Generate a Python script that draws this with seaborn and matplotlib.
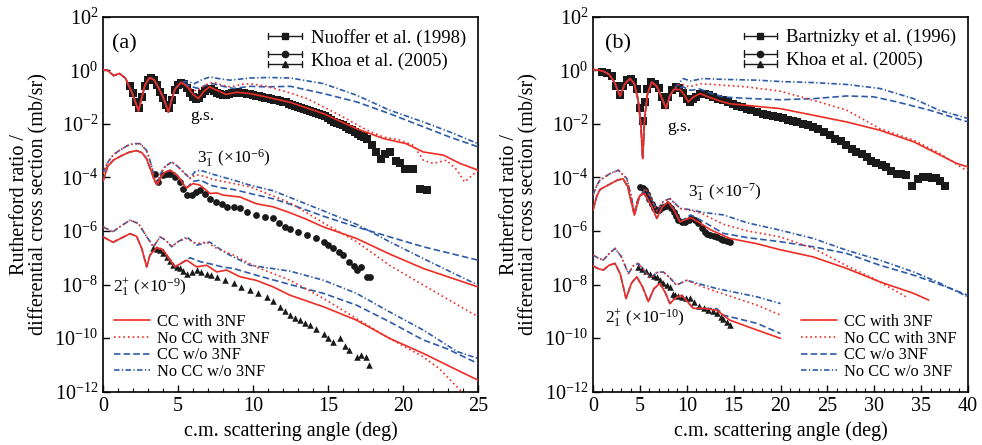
import matplotlib
matplotlib.use("Agg")
import matplotlib.pyplot as plt
import numpy as np
import seaborn as sns
from matplotlib.lines import Line2D
from matplotlib.legend_handler import HandlerBase
from matplotlib.ticker import MultipleLocator, NullLocator, FixedLocator, LogFormatterMathtext

# all curves are (c.m. angle in deg, log10 of value) pairs

# ---------------- panel (a) ----------------
a_gs_early = [(0, 0.02), (0.3, 0.0), (0.7, -0.2), (1.1, -0.12), (1.5, -0.3), (1.9, -0.8), (2.2, -1.25),
              (2.36, -1.52), (2.55, -1.1), (2.8, -0.55), (3.1, -0.28), (3.4, -0.35), (3.7, -0.65),
              (4.0, -1.0), (4.2, -1.3), (4.36, -1.57), (4.55, -1.15), (4.8, -0.7), (5.2, -0.45)]
a_gs_cc_3nf = a_gs_early + [(5.6, -0.6), (6.0, -0.9), (6.36, -1.06), (6.7, -0.8), (7.1, -0.62), (7.6, -0.75),
                            (8.2, -0.9), (8.9, -0.82), (9.8, -0.87), (10.9, -1.0), (12.5, -1.2), (14.7, -1.62),
                            (16.9, -2.18), (18.7, -2.55), (20.2, -2.74), (21.35, -3.05), (22.7, -3.17),
                            (23.8, -3.48), (25, -3.73)]
a_gs_nocc_3nf = a_gs_early + [(5.7, -0.65), (6.24, -0.78), (6.8, -0.55), (7.36, -0.44), (7.9, -0.55),
                              (8.5, -0.62), (9.2, -0.53), (9.8, -0.5), (10.9, -0.6), (12.5, -0.85),
                              (13.6, -1.06), (15.8, -1.68), (17.6, -2.24), (18.7, -2.49), (19.8, -2.61),
                              (20.7, -2.8), (21.35, -3.36), (22.0, -3.48), (22.9, -3.36), (23.6, -3.73),
                              (24.1, -4.17), (25, -3.73)]
a_gs_cc_no3nf = a_gs_early + [(5.8, -0.6), (6.36, -0.68), (6.9, -0.55), (7.36, -0.5), (8.0, -0.6),
                              (8.7, -0.68), (9.8, -0.6), (10.9, -0.62), (12.5, -0.6), (14.7, -0.87),
                              (16.9, -1.18), (19.1, -1.62), (21.35, -2.11), (23.1, -2.49), (25, -2.86)]
a_gs_nocc_no3nf = a_gs_early + [(5.6, -0.42), (6.1, -0.5), (6.6, -0.35), (7.13, -0.25), (7.8, -0.32),
                                (8.47, -0.37), (9.8, -0.29), (11.0, -0.27), (12.5, -0.29), (14.7, -0.5),
                                (16.9, -0.93), (19.1, -1.49), (21.35, -1.93), (23.1, -2.3), (25, -2.74)]

a_3m_low = [(0, -4.15), (0.3, -3.6), (0.7, -3.35), (1.1, -3.23), (1.5, -3.12), (1.8, -3.05), (2.24, -3.0),
            (2.6, -3.08), (2.9, -3.3), (3.2, -3.75), (3.45, -4.15), (3.63, -4.27), (3.85, -4.0),
            (4.1, -3.82), (4.47, -3.73), (4.8, -3.85), (5.13, -4.04), (5.4, -4.3), (5.58, -4.39)]
a_3m_high = [(0, -3.85), (0.3, -3.45), (0.7, -3.15), (1.1, -2.99), (1.6, -2.82), (2.02, -2.74), (2.47, -2.74),
             (2.9, -2.99), (3.2, -3.5), (3.45, -4.05), (3.63, -4.2), (3.85, -3.85), (4.13, -3.6),
             (4.58, -3.42), (5.0, -3.6), (5.36, -3.8), (5.8, -4.04)]
a_3m_cc_3nf = a_3m_low + [(6.0, -4.23), (6.47, -4.29), (7.13, -4.6), (7.6, -4.58), (8.0, -4.66), (8.6, -4.7),
                          (9.13, -4.73), (10.2, -4.98), (11.35, -5.1), (12.47, -5.32), (13.5, -5.55),
                          (14.7, -5.85), (16.9, -6.28), (19.1, -6.86), (21.35, -7.4), (25, -8.09)]
a_3m_cc_no3nf = a_3m_low + [(6.0, -4.15), (6.5, -4.1), (7.2, -4.3), (8.0, -4.4), (8.7, -4.45), (9.8, -4.6),
                            (11.35, -4.8), (12.47, -5.0), (14.7, -5.45), (16.9, -5.85), (19.1, -6.22),
                            (21.35, -6.59), (25, -7.09)]
a_3m_nocc_3nf = a_3m_high + [(6.2, -3.9), (6.69, -3.95), (7.36, -4.08), (8.0, -4.15), (8.7, -4.23),
                             (9.8, -4.35), (11.35, -4.7), (12.47, -4.95), (14.7, -5.7), (16.9, -6.4),
                             (19.1, -7.28), (21.35, -8.02), (25, -9.2)]
a_3m_nocc_no3nf = a_3m_high + [(6.1, -3.8), (6.47, -3.73), (7.36, -3.89), (8.7, -4.1), (9.8, -4.29),
                               (11.35, -4.5), (12.47, -4.75), (14.7, -5.25), (16.9, -5.75), (19.1, -6.4),
                               (21.35, -7.03), (25, -8.02)]

a_2p_low = [(0, -6.22), (0.67, -6.42), (1.1, -6.3), (1.8, -6.1), (2.24, -6.2), (2.58, -6.65), (2.91, -7.34),
            (3.13, -6.9), (3.58, -6.62), (4.0, -6.7), (4.47, -7.09), (4.8, -7.34)]
a_2p_high = [(0, -5.85), (0.67, -6.03), (1.1, -5.85), (1.8, -5.6), (2.36, -5.72), (2.9, -6.2), (3.36, -6.59),
             (3.8, -6.22), (4.2, -6.35), (4.58, -6.59), (5.0, -6.4)]
a_2p_cc_3nf = a_2p_low + [(5.58, -7.09), (6.24, -7.34), (6.91, -7.28), (7.58, -7.53), (8.24, -7.46),
                          (9.13, -7.71), (10.2, -7.84), (11.35, -8.09), (12.47, -8.4), (14.7, -8.83),
                          (16.9, -9.33), (19.1, -10.01), (21.35, -10.57), (23.6, -11.19), (25, -11.57)]
a_2p_cc_no3nf = a_2p_low + [(5.8, -7.0), (6.5, -7.15), (7.1, -7.22), (8.0, -7.35), (8.7, -7.4), (10.2, -7.65),
                            (12.47, -8.0), (14.7, -8.33), (16.9, -8.77), (19.1, -9.39), (21.35, -10.07),
                            (22.9, -10.39), (25, -10.95)]
a_2p_nocc_3nf = a_2p_high + [(5.58, -6.28), (6.24, -6.47), (6.9, -6.41), (7.58, -6.65), (8.7, -6.9),
                             (10.2, -7.34), (12.47, -7.84), (14.7, -8.52), (16.9, -9.27), (19.1, -10.01),
                             (21.35, -10.7), (22.4, -11.13), (23.8, -11.94), (24.3, -12.2)]
a_2p_nocc_no3nf = a_2p_high + [(5.58, -6.22), (6.24, -6.53), (7.1, -6.41), (8.24, -6.84), (9.8, -7.28),
                               (12.47, -7.5), (14.7, -7.84), (16.9, -8.33), (19.1, -9.02), (21.35, -9.7),
                               (23.6, -10.5), (25, -10.76)]

# experimental points, panel (a)
a_gs_data = [(1.8, -0.58), (2.0, -0.85), (2.2, -1.2), (2.4, -1.4), (2.6, -1.0), (2.8, -0.6), (3.0, -0.35),
             (3.2, -0.3), (3.4, -0.37), (3.6, -0.55), (3.8, -0.8), (4.0, -1.05), (4.2, -1.3), (4.4, -1.4),
             (4.6, -1.1), (4.8, -0.75), (5.0, -0.55), (5.2, -0.47), (5.4, -0.5), (5.6, -0.65), (5.8, -0.85),
             (6.0, -1.0), (6.2, -1.08), (6.4, -1.02), (6.6, -0.88), (6.8, -0.76), (7.0, -0.7), (7.2, -0.7),
             (7.4, -0.76), (7.6, -0.84), (7.8, -0.9), (8.0, -0.93), (8.2, -0.92), (8.4, -0.88), (8.6, -0.85),
             (8.8, -0.84), (9.0, -0.83), (9.2, -0.84), (9.4, -0.86), (9.6, -0.88), (9.8, -0.9), (10.0, -0.93),
             (10.2, -0.95), (10.4, -0.97), (10.6, -1.0), (10.8, -1.03), (11.0, -1.05), (11.2, -1.08),
             (11.4, -1.1), (11.6, -1.12), (11.8, -1.14), (12.0, -1.17), (12.2, -1.2), (12.4, -1.25),
             (12.6, -1.3), (12.8, -1.34), (13.0, -1.38), (13.2, -1.42), (13.4, -1.46), (13.6, -1.5),
             (13.8, -1.53), (14.0, -1.57), (14.2, -1.6), (14.4, -1.63), (14.6, -1.67), (14.8, -1.72),
             (15.0, -1.8), (15.2, -1.85), (15.4, -1.92), (15.6, -1.96), (15.8, -2.0), (16.0, -2.05),
             (16.2, -2.1), (16.4, -2.18), (16.6, -2.24), (16.8, -2.3), (17.0, -2.38), (17.2, -2.45),
             (17.4, -2.5), (17.6, -2.55), (17.9, -2.8), (18.2, -3.05), (18.5, -3.3), (18.8, -3.11),
             (19.1, -3.05), (19.5, -3.4), (19.8, -3.48), (20.1, -3.69), (20.65, -3.69), (21.1, -4.44),
             (21.6, -4.48)]
a_3m_data = [(3.47, -3.86), (3.69, -4.17), (4.02, -3.92), (4.25, -3.88), (4.47, -3.86), (4.8, -4.0),
             (5.13, -4.17), (5.35, -4.45), (5.58, -4.66), (5.9, -4.66), (6.2, -4.55), (6.47, -4.48),
             (6.8, -4.62), (7.13, -4.79), (7.5, -4.9), (7.9, -5.0), (8.24, -5.1), (8.7, -5.12), (9.13, -5.16),
             (9.6, -5.28), (10.2, -5.41), (10.8, -5.47), (11.35, -5.53), (11.7, -5.7), (12.1, -5.85),
             (12.47, -5.91), (13.0, -6.03), (13.6, -6.16), (14.2, -6.28), (14.7, -6.4), (15.0, -6.52),
             (15.35, -6.65), (15.7, -6.78), (16.0, -6.9), (16.4, -7.15), (16.7, -7.3), (16.95, -7.46),
             (17.2, -7.34), (17.6, -7.71), (17.8, -7.71)]
a_2p_data = [(3.36, -6.65), (3.6, -6.68), (3.8, -6.72), (4.0, -6.82), (4.24, -6.97), (4.45, -7.12),
             (4.69, -7.28), (4.9, -7.35), (5.13, -7.4), (5.35, -7.5), (5.6, -7.59), (5.9, -7.52),
             (6.24, -7.46), (6.55, -7.53), (6.9, -7.59), (7.2, -7.65), (7.58, -7.71), (8.1, -7.82),
             (8.7, -7.96), (9.2, -8.08), (9.8, -8.21), (10.3, -8.32), (10.9, -8.46), (11.3, -8.62),
             (11.8, -8.83), (12.1, -8.98), (12.47, -9.14), (12.8, -9.24), (13.1, -9.33), (13.45, -9.42),
             (13.8, -9.51), (14.2, -9.66), (14.7, -9.83), (15.0, -9.98), (15.35, -10.14), (15.8, -10.01),
             (16.1, -10.3), (16.4, -10.45), (16.9, -10.7), (17.2, -10.64), (17.5, -10.7), (17.75, -11.0)]

# ---------------- panel (b) ----------------
b_gs_early = [(0, 0.03), (0.6, 0.0), (1.1, -0.04), (1.7, -0.15), (2.3, -0.45), (2.88, -0.97), (3.4, -0.5),
              (3.95, -0.31), (4.4, -0.5), (4.8, -1.1), (5.1, -2.0), (5.3, -3.3), (5.5, -1.8), (5.8, -0.9),
              (6.26, -0.44), (6.8, -0.6), (7.3, -1.0), (7.79, -1.43), (8.2, -0.95), (8.6, -0.72)]
b_gs_cc_3nf = b_gs_early + [(9.28, -0.72), (9.7, -0.9), (10.17, -1.18), (10.7, -1.0), (11.41, -0.87),
                            (12.5, -1.02), (13.55, -1.15), (14.6, -1.25), (16.4, -1.31), (18.1, -1.37),
                            (19.95, -1.43), (23.5, -1.68), (27.06, -1.93), (30.6, -2.24), (34.2, -2.67),
                            (36.7, -3.11), (38.8, -3.48), (40, -3.61)]
b_gs_nocc_3nf = b_gs_early + [(9.28, -0.5), (10.3, -0.62), (11.4, -0.5), (13.9, -0.56), (16.4, -0.62),
                              (19.95, -0.78), (23.5, -1.12), (27.06, -1.49), (30.6, -2.18), (34.2, -2.61),
                              (37.0, -3.11), (39.5, -3.67), (40, -3.73)]
b_gs_cc_no3nf = b_gs_early + [(9.6, -0.62), (10.4, -0.75), (11.4, -0.7), (12.5, -0.85), (13.9, -1.0),
                              (16.4, -1.05), (19.95, -1.1), (23.5, -1.06), (27.06, -0.96), (29.9, -0.99),
                              (32.4, -1.18), (35.9, -1.49), (40, -1.93)]
b_gs_nocc_no3nf = b_gs_early + [(9.6, -0.31), (10.4, -0.4), (11.7, -0.31), (13.9, -0.34), (17.5, -0.37),
                                (19.95, -0.42), (23.5, -0.46), (27.06, -0.53), (30.6, -0.68), (34.2, -1.06),
                                (36.9, -1.49), (40, -1.8)]

b_3m_low = [(0, -5.22), (0.4, -4.7), (0.75, -4.45), (1.8, -4.25), (2.6, -4.1), (3.2, -4.05), (3.7, -4.35),
            (4.41, -5.41), (4.98, -4.68), (5.5, -4.6), (6.2, -5.04), (6.8, -5.53), (7.4, -5.1), (8.0, -4.91),
            (8.6, -5.2), (9.28, -5.66)]
b_3m_high = [(0, -4.66), (0.4, -4.3), (0.75, -4.1), (1.8, -3.86), (2.7, -3.73), (3.6, -4.04), (4.0, -4.6),
             (4.41, -5.29), (4.8, -4.8), (5.6, -4.41), (6.2, -4.8), (6.8, -5.25), (7.5, -4.9), (8.2, -4.79),
             (9.3, -5.16)]
b_3m_cc_3nf = b_3m_low + [(10.4, -5.5), (11.5, -5.72), (12.5, -5.95), (14.6, -6.28), (17.4, -6.47),
                          (19.95, -6.7), (23.5, -6.97), (27.06, -7.4), (30.6, -7.9), (34.2, -8.33), (35.8, -8.58)]
b_3m_cc_no3nf = b_3m_low + [(10.4, -5.4), (11.5, -5.6), (12.5, -5.8), (13.9, -6.09), (16.5, -6.25),
                            (19.95, -6.4), (23.5, -6.59), (27.06, -6.84), (30.6, -7.28), (34.2, -7.65),
                            (36.7, -7.96), (40, -8.4)]
b_3m_nocc_3nf = b_3m_high + [(10.3, -5.22), (11.6, -5.35), (13.9, -5.75), (16.5, -6.0), (19.95, -6.22),
                             (23.5, -6.65), (27.06, -7.3), (29.9, -7.77), (33.6, -8.5)]
b_3m_nocc_no3nf = b_3m_high + [(10.3, -5.2), (11.6, -5.3), (13.9, -5.4), (16.5, -5.7), (19.95, -5.97),
                               (23.5, -6.28), (27.06, -6.72), (30.6, -7.09), (34.2, -7.53), (36.7, -7.9),
                               (40, -8.46)]

b_2p_low = [(0, -7.3), (0.5, -7.4), (1.1, -7.46), (1.7, -7.28), (2.35, -7.21), (2.9, -7.6), (3.52, -8.52),
            (4.1, -7.95), (4.66, -7.71), (5.3, -8.1), (5.9, -8.64), (6.5, -8.15), (7.15, -7.96), (7.7, -8.3),
            (8.2, -8.71), (8.8, -8.5), (9.46, -8.4), (10.1, -8.65), (10.7, -8.89), (11.8, -8.89)]
b_2p_high = [(0, -6.9), (0.5, -7.0), (1.1, -7.09), (1.7, -6.85), (2.35, -6.65), (3.0, -6.95), (3.77, -7.59),
             (4.3, -7.3), (4.84, -7.21), (5.5, -7.5), (6.1, -7.77), (6.8, -7.55), (7.5, -7.53), (8.2, -7.75),
             (8.9, -8.02), (10.0, -7.84)]
b_2p_cc_3nf = b_2p_low + [(13.2, -8.96), (14.6, -9.33), (17.5, -9.7), (20, -10.01)]
b_2p_cc_no3nf = b_2p_low + [(13.2, -8.9), (13.9, -9.14), (17.5, -9.45), (20, -9.83)]
b_2p_nocc_3nf = b_2p_high + [(11.8, -8.1), (13.2, -8.27), (17.5, -8.77), (20, -9.14)]
b_2p_nocc_no3nf = b_2p_high + [(11.8, -8.02), (13.2, -8.15), (17.5, -8.46), (20, -8.71)]

b_gs_data = [(1.0, -0.05), (1.5, -0.1), (2.0, -0.2), (2.5, -0.6), (2.9, -0.93), (3.2, -0.6), (3.6, -0.35),
             (4.0, -0.33), (4.3, -0.45), (4.7, -0.7), (5.0, -1.4), (5.3, -1.9), (5.5, -1.2), (5.8, -0.7),
             (6.2, -0.45), (6.6, -0.5), (7.0, -0.65), (7.4, -1.0), (7.7, -1.3), (8.0, -1.0), (8.4, -0.72),
             (8.8, -0.62), (9.2, -0.65), (9.6, -0.85), (10.0, -1.06), (10.3, -1.18), (10.7, -1.08),
             (11.0, -0.98), (11.4, -0.9), (11.9, -0.87), (12.4, -0.93), (12.8, -1.0), (13.3, -1.06),
             (13.9, -1.12), (14.4, -1.18), (14.9, -1.25), (15.4, -1.32), (15.9, -1.38), (16.4, -1.43),
             (16.9, -1.5), (17.5, -1.55), (18.1, -1.62), (18.6, -1.66), (19.2, -1.7), (19.7, -1.74),
             (20.3, -1.8), (20.8, -1.85), (21.3, -1.9), (21.8, -1.95), (22.4, -2.0), (22.9, -2.05),
             (23.5, -2.11), (24.0, -2.2), (24.6, -2.3), (25.3, -2.43), (25.8, -2.55), (26.4, -2.65),
             (27.0, -2.8), (27.6, -2.95), (28.1, -3.05), (28.7, -3.12), (29.2, -3.23), (29.7, -3.38),
             (30.2, -3.48), (30.8, -3.55), (31.3, -3.61), (31.8, -3.75), (32.4, -3.86), (32.9, -3.88),
             (33.4, -3.92), (34.0, -4.32), (34.7, -4.07), (35.2, -4.0), (35.7, -3.98), (36.2, -4.02),
             (36.6, -4.04), (37.0, -4.15), (37.5, -4.32)]
b_3m_data = [(5.0, -4.35), (5.3, -4.4), (5.5, -4.48), (5.8, -4.62), (6.0, -4.79), (6.3, -5.0), (6.5, -5.16),
             (6.8, -5.2), (7.0, -5.22), (7.3, -5.15), (7.5, -5.1), (7.8, -5.05), (8.0, -5.04), (8.3, -5.15),
             (8.6, -5.29), (8.9, -5.45), (9.1, -5.6), (9.5, -5.65), (9.8, -5.66), (10.2, -5.6), (10.5, -5.53),
             (10.9, -5.6), (11.2, -5.72), (11.6, -5.9), (11.9, -6.03), (12.2, -6.1), (12.5, -6.16),
             (12.9, -6.2), (13.2, -6.22), (13.6, -6.3), (13.9, -6.34), (14.3, -6.38), (14.6, -6.41)]
b_2p_data = [(4.84, -7.34), (5.2, -7.42), (5.6, -7.5), (6.1, -7.59), (6.5, -7.68), (6.8, -7.71), (7.15, -7.84),
             (7.5, -7.95), (7.9, -8.0), (8.2, -8.09), (8.5, -8.35), (8.7, -8.4), (9.1, -8.43), (9.46, -8.46),
             (9.9, -8.5), (10.35, -8.52), (10.8, -8.65), (11.3, -8.8), (11.8, -8.89), (12.3, -8.95),
             (12.8, -9.0), (13.2, -9.08), (13.6, -9.2), (13.9, -9.27), (14.3, -9.4), (14.6, -9.51)]

RED = "#ee2d24"
BLUE = "#2d5ba9"
STYLES = {
    "CC with 3NF": (RED, "-"),
    "No CC with 3NF": (RED, (0, (1, 1.8))),
    "CC w/o 3NF": (BLUE, (0, (3.9, 1.9))),
    "No CC w/o 3NF": (BLUE, (0, (3.3, 1.4, 0.8, 1.4))),
}

sns.set_theme(style="ticks")
plt.rcParams["font.family"] = ["Liberation Serif", "DejaVu Serif"]
plt.rcParams["mathtext.fontset"] = "custom"
plt.rcParams["mathtext.rm"] = "Liberation Serif"
plt.rcParams["mathtext.it"] = "Liberation Serif:italic"
plt.rcParams["mathtext.bf"] = "Liberation Serif:bold"
plt.rcParams["text.color"] = "black"
plt.rcParams["axes.labelcolor"] = "black"
plt.rcParams["xtick.color"] = "black"
plt.rcParams["ytick.color"] = "black"


class StackedErrorbarHandler(HandlerBase):
    """Legend handle: horizontal error bars with markers, stacked vertically."""
    def __init__(self, markers, gap):
        super().__init__()
        self.markers = markers
        self.gap = gap

    def create_artists(self, legend, orig_handle, xdescent, ydescent, width, height, fontsize, trans):
        x0, x1 = -xdescent, width - xdescent
        yc = (height - ydescent) / 2
        n = len(self.markers)
        arts = []
        for i, m in enumerate(self.markers):
            y = yc + (0.5 * (n - 1) - i) * self.gap
            arts.append(Line2D([x0, x1], [y, y], color="k", lw=1.0))
            arts.append(Line2D([x0, x0], [y - 2.2, y + 2.2], color="k", lw=1.0))
            arts.append(Line2D([x1, x1], [y - 2.2, y + 2.2], color="k", lw=1.0))
            arts.append(Line2D([(x0 + x1) / 2], [y], marker=m, ms=4.5, color="k", ls="none"))
        for a in arts:
            a.set_transform(trans)
        return arts


def draw_curve(ax, pts, key):
    color, ls = STYLES[key]
    x, lg = zip(*pts)
    sns.lineplot(x=np.array(x), y=10.0 ** np.array(lg), ax=ax, color=color, linestyle=ls,
                 linewidth=1.2, estimator=None, sort=False, legend=False, zorder=3)


def draw_data(ax, pts, marker, size):
    x, lg = zip(*pts)
    sns.scatterplot(x=np.array(x), y=10.0 ** np.array(lg), ax=ax, marker=marker, s=size,
                    color="k", linewidth=0, legend=False, zorder=2)


def style_axes(ax, xmax):
    ax.set_yscale("log")
    ax.set_xlim(0, xmax)
    ax.set_ylim(1e-12, 1e2)
    ax.xaxis.set_major_locator(MultipleLocator(5))
    ax.xaxis.set_minor_locator(MultipleLocator(1))
    ax.yaxis.set_major_locator(FixedLocator([10.0 ** k for k in range(-12, 3, 2)]))
    ax.yaxis.set_major_formatter(LogFormatterMathtext())
    ax.yaxis.set_minor_locator(NullLocator())
    ax.tick_params(which="both", direction="in", top=False, right=False, labelsize=14.5)
    ax.tick_params(which="major", length=5, width=1)
    ax.tick_params(which="minor", length=3, width=0.8)
    for s in ax.spines.values():
        s.set_linewidth(1.2)
        s.set_color("black")
    ax.set_xlabel("c.m. scattering angle (deg)", fontsize=14.5, labelpad=4)
    ax.set_ylabel("Rutherford ratio /\ndifferential cross section (mb/sr)", fontsize=14.5,
                  linespacing=1.0)
    ax.yaxis.set_label_coords(-0.145, 0.5)


def add_legends(ax, ref_label, theory_loc, theory_anchor):
    h_one = Line2D([], [])
    h_two = Line2D([], [])
    leg = ax.legend([h_one, h_two], [ref_label, "Khoa et al. (2005)"],
                    handler_map={h_one: StackedErrorbarHandler(["s"], 0),
                                 h_two: StackedErrorbarHandler(["o", "^"], 7.2)},
                    loc="upper right", bbox_to_anchor=(1.0, 1.0), frameon=False, fontsize=13.5,
                    handlelength=1.8, handletextpad=0.45, labelspacing=0.3, borderaxespad=0.25)
    ax.add_artist(leg)
    handles = [Line2D([], [], color=c, linestyle=ls, lw=1.2) for c, ls in STYLES.values()]
    ax.legend(handles, list(STYLES.keys()), loc=theory_loc, bbox_to_anchor=theory_anchor,
              fontsize=11.8, handlelength=2.15, handletextpad=0.45, labelspacing=0.05,
              frameon=True, facecolor="white", edgecolor="none", framealpha=1.0, fancybox=False,
              borderpad=0.3, borderaxespad=0.4)


fig = plt.figure(figsize=(9.82, 4.45), dpi=100)
ax_a = fig.add_axes([0.1049, 0.1198, 0.3819, 0.8427])
ax_b = fig.add_axes([0.6039, 0.1198, 0.3819, 0.8427])

panel_a = {
    "CC with 3NF": [a_gs_cc_3nf, a_3m_cc_3nf, a_2p_cc_3nf],
    "No CC with 3NF": [a_gs_nocc_3nf, a_3m_nocc_3nf, a_2p_nocc_3nf],
    "CC w/o 3NF": [a_gs_cc_no3nf, a_3m_cc_no3nf, a_2p_cc_no3nf],
    "No CC w/o 3NF": [a_gs_nocc_no3nf, a_3m_nocc_no3nf, a_2p_nocc_no3nf],
}
panel_b = {
    "CC with 3NF": [b_gs_cc_3nf, b_3m_cc_3nf, b_2p_cc_3nf],
    "No CC with 3NF": [b_gs_nocc_3nf, b_3m_nocc_3nf, b_2p_nocc_3nf],
    "CC w/o 3NF": [b_gs_cc_no3nf, b_3m_cc_no3nf, b_2p_cc_no3nf],
    "No CC w/o 3NF": [b_gs_nocc_no3nf, b_3m_nocc_no3nf, b_2p_nocc_no3nf],
}

for ax, curves in ((ax_a, panel_a), (ax_b, panel_b)):
    for key in ["No CC w/o 3NF", "CC w/o 3NF", "No CC with 3NF", "CC with 3NF"]:
        for pts in curves[key]:
            draw_curve(ax, pts, key)

draw_data(ax_a, a_gs_data, "s", 26)
draw_data(ax_a, a_3m_data, "o", 24)
draw_data(ax_a, a_2p_data, "^", 22)
draw_data(ax_b, b_gs_data, "s", 26)
draw_data(ax_b, b_3m_data, "o", 24)
draw_data(ax_b, b_2p_data, "^", 22)

style_axes(ax_a, 25)
style_axes(ax_b, 40)

add_legends(ax_a, "Nuoffer et al. (1998)", "lower left", (0.0, 0.0))
add_legends(ax_b, "Bartnizky et al. (1996)", "lower right", (1.0, 0.0))

ax_a.text(0.6, 10 ** 1.0, "(a)", fontsize=16, va="center")
ax_a.text(5.8, 10 ** -1.72, "g.s.", fontsize=12.5, va="center")
ax_a.text(6.27, 10 ** -3.28, r"3$_{1}^{-}$ (×10$^{-6}$)", fontsize=12.5, va="center")
ax_a.text(0.67, 10 ** -8.1, r"2$_{1}^{+}$ (×10$^{-9}$)", fontsize=12.5, va="center")

ax_b.text(1.28, 10 ** 1.0, "(b)", fontsize=16, va="center")
ax_b.text(7.9, 10 ** -2.13, "g.s.", fontsize=12.5, va="center")
ax_b.text(10.1, 10 ** -4.54, r"3$_{1}^{-}$ (×10$^{-7}$)", fontsize=12.5, va="center")
ax_b.text(1.28, 10 ** -9.25, r"2$_{1}^{+}$ (×10$^{-10}$)", fontsize=12.5, va="center")

fig.savefig("out.png", dpi=100)
